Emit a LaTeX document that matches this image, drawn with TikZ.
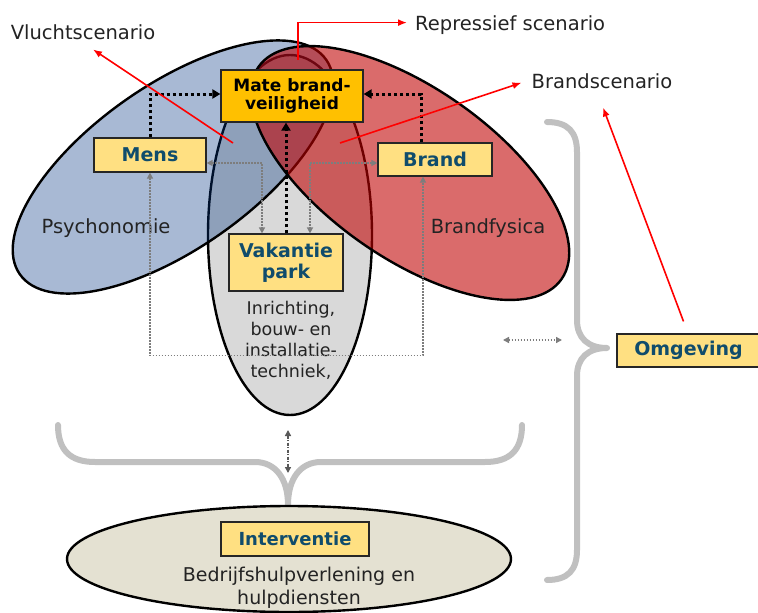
\documentclass[tikz,border=0pt]{standalone}
\usepackage{fontspec}
\setmainfont{DejaVu Sans}
\usetikzlibrary{shapes.geometric,arrows.meta}
\definecolor{bluefill}{RGB}{0,52,129}
\definecolor{redfill}{RGB}{192,0,0}
\definecolor{grayfill}{RGB}{217,217,217}
\definecolor{beige}{RGB}{228,225,210}
\definecolor{boxyellow}{RGB}{255,224,130}
\definecolor{mateorange}{RGB}{255,192,0}
\definecolor{labelblue}{RGB}{16,76,108}
\definecolor{bracegray}{RGB}{192,192,192}
\definecolor{dotgray}{RGB}{125,125,125}
\definecolor{txtgray}{RGB}{35,35,35}
\newcommand{\myfs}[2]{\fontsize{#1}{#2}\selectfont}
\begin{document}
\begin{tikzpicture}[x=1pt,y=-1pt,
  zone/.style={ellipse, draw=black, line width=2.4pt, inner sep=0pt, outer sep=0pt},
  lbl/.style={draw=black!85, line width=1.2pt, fill=boxyellow, text=labelblue, font=\bfseries\myfs{19}{23}, inner sep=0pt, align=center},
  txt/.style={text=txtgray, font=\myfs{19.5}{23}, inner sep=0pt},
  redarrow/.style={draw=red, line width=1.6pt, -{Latex[length=9pt,width=7pt]}},
  blackdot/.style={draw=black, line width=3pt, dash pattern=on 3pt off 3pt, -{Triangle[length=8pt,width=9pt]}},
  graydot/.style={draw=dotgray, line width=1.4pt, dash pattern=on 1.5pt off 1.5pt, {Triangle[length=6pt,width=6pt]}-{Triangle[length=6pt,width=6pt]}},
  graydashdot/.style={draw=black!65, line width=1.4pt, dash pattern=on 3pt off 1.5pt on 1pt off 1.5pt, {Triangle[length=6pt,width=6pt]}-{Triangle[length=6pt,width=6pt]}},
  curlybrace/.style={draw=bracegray, line width=6pt, line cap=round, line join=round}]
\useasboundingbox (0,0) rectangle (758,613);
\clip (0,0) rectangle (758,613);
\fill[white] (0,0) rectangle (758,613);

% braces
\draw[curlybrace] (547,122) .. controls (568,122) and (577,132) .. (577,152) -- (577,320)
  .. controls (577,338) and (588,348) .. (607,348)
  .. controls (588,348) and (577,358) .. (577,376) -- (577,550)
  .. controls (577,570) and (568,580) .. (547,580);
\draw[curlybrace] (58,425) .. controls (58,450) and (70,462) .. (95,462) -- (255,462)
  .. controls (275,462) and (288,478) .. (288,505)
  .. controls (288,478) and (301,462) .. (321,462) -- (485,462)
  .. controls (510,462) and (522,450) .. (522,425);

% zones
\node[zone, fill=grayfill, minimum width=164pt, minimum height=360pt] (inr) at (290,235) {};
\node[zone, fill=bluefill, fill opacity=0.34, minimum width=374pt, minimum height=164pt, rotate=35] (psy) at (173,167) {};
\node[zone, fill=redfill, fill opacity=0.58, minimum width=370pt, minimum height=170pt, rotate=-35] (bfy) at (410,173) {};
\node[zone, fill=beige, minimum width=444pt, minimum height=106pt] (intv) at (289,559) {};

% plain texts
\node[txt, anchor=base] (vl) at (83,39) {Vluchtscenario};
\node[txt, anchor=base west] (rep) at (415,30) {Repressief scenario};
\node[txt, anchor=base] (bs) at (602,88) {Brandscenario};
\node[txt, anchor=base] (psyt) at (106,233) {Psychonomie};
\node[txt, anchor=base] (bfyt) at (488,233) {Brandfysica};
\node[txt, font=\myfs{17.5}{21}, align=center] (inrt) at (291,340) {Inrichting,\\bouw- en\\installatie-\\techniek,};
\node[txt, font=\myfs{19}{23}, align=center] (intvt) at (299,588) {Bedrijfshulpverlening en\\hulpdiensten};

% boxes
\node[lbl, fill=mateorange, text=black, font=\bfseries\myfs{17}{17.5}, minimum width=142pt, minimum height=52pt] (mate) at (292,96) {Mate brand-\\veiligheid};
\node[lbl, minimum width=112pt, minimum height=34pt] (mens) at (150,155) {Mens};
\node[lbl, minimum width=114pt, minimum height=33pt] (brand) at (435,159.5) {Brand};
\node[lbl, minimum width=114pt, minimum height=57pt, font=\bfseries\myfs{19}{21}] (vak) at (286,262.5) {Vakantie\\park};
\node[lbl, minimum width=143pt, minimum height=33pt] (omg) at (688.5,350.5) {Omgeving};
\node[lbl, minimum width=148pt, minimum height=34pt, font=\bfseries\myfs{18}{21}] (intvb) at (295,539) {Interventie};

% black dotted connectors
\draw[blackdot] (mens.north) |- ([yshift=2pt]mate.west);
\draw[blackdot] ([xshift=-14pt]brand.north) |- ([yshift=2pt]mate.east);
\draw[blackdot] (vak.north) -- (vak.north |- mate.south);

% gray dotted connectors
\draw[graydot] ([yshift=-8pt]mens.east) -| ([xshift=-24pt]vak.north);
\draw[graydot] ([yshift=-3.5pt]brand.west) -| ([xshift=24pt]vak.north);
\draw[graydot] (mens.south) -- ++(0,183) -| ([xshift=-12pt]brand.south);
\coordinate (hl) at (503,340);
\coordinate (hr) at (562,340);
\draw[graydot] (hl) -- (hr);
\coordinate (vt) at (288,430);
\coordinate (vb) at (288,473);
\draw[graydashdot] (vt) -- (vb);

% red arrows
\coordinate (vls) at (233,143);
\draw[redarrow] (vls) -- ([shift={(10,10)}]vl.south);
\coordinate (reps) at (298,60);
\draw[redarrow] (reps) |- ([shift={(-8,-2)}]rep.west);
\coordinate (bss) at (340,143);
\draw[redarrow] (bss) -- ([shift={(-10,2)}]bs.west);
\draw[redarrow] ([shift={(-5,-12)}]omg.north) -- ([shift={(1,19)}]bs.south);
\end{tikzpicture}
\end{document}
